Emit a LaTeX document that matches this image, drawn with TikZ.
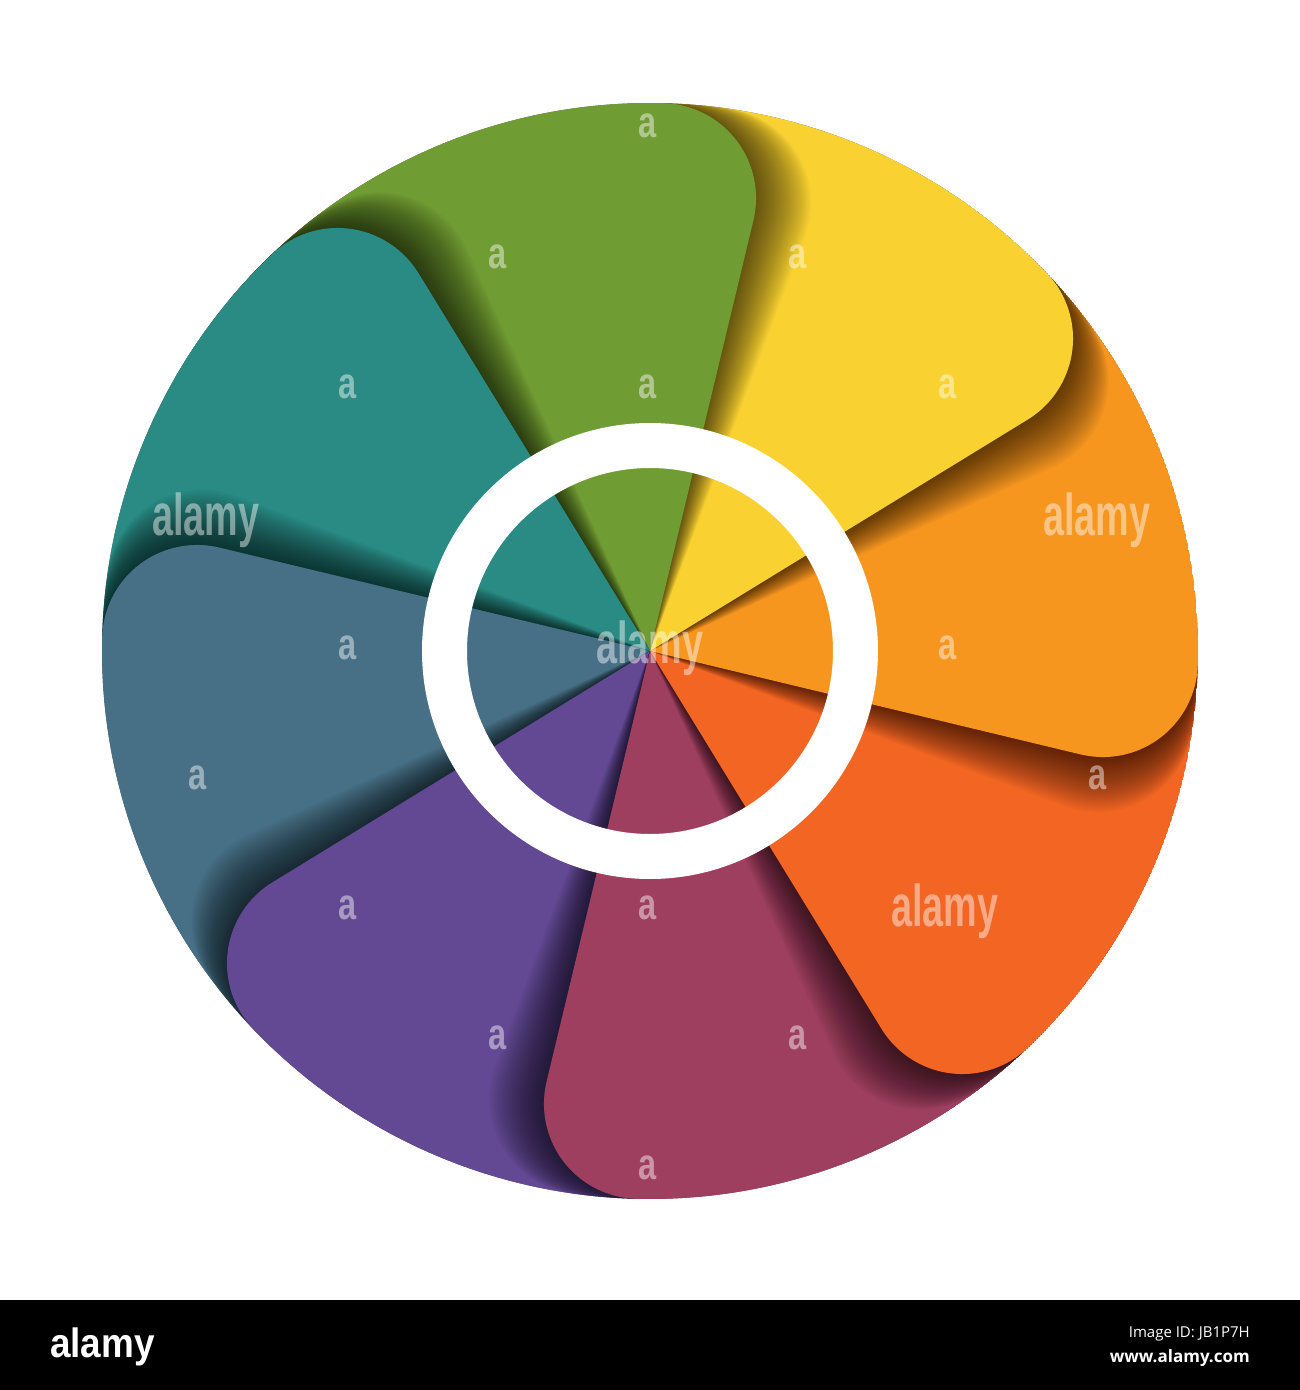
\documentclass[tikz,border=0pt]{standalone}
\usepackage{fontspec}
\newfontfamily\wmfont{Liberation Sans}[FakeStretch=0.64,BoldFeatures={FakeStretch=0.64}]
\newfontfamily\wmfonta{Liberation Sans}[FakeStretch=0.74,BoldFeatures={FakeStretch=0.74}]
\newfontfamily\logofont{Liberation Sans}[FakeStretch=0.9,BoldFeatures={FakeStretch=0.9}]
\newfontfamily\barfont{Open Sans}
\definecolor{cgreen}{HTML}{709C34}
\definecolor{cyellow}{HTML}{F9D232}
\definecolor{corange}{HTML}{F6961F}
\definecolor{cred}{HTML}{F26522}
\definecolor{cmaroon}{HTML}{9E3F5F}
\definecolor{cpurple}{HTML}{634893}
\definecolor{cslate}{HTML}{477086}
\definecolor{cteal}{HTML}{2A8A84}
\def\petalpath{(0,0) -- (136.5:548pt) arc[start angle=136.5, end angle=88.6, radius=548pt] arc[start angle=88.6, end angle=-13.5, radius=95pt] -- cycle}
\newcommand\petalshadow[1]{%
  \begin{scope}[rotate=#1]
    \foreach \d in {0.25,0.5,...,7.0}{\fill[black,opacity=0.027,rotate=-\d] \petalpath;}
  \end{scope}}
\newcommand\petalfill[2]{%
  \begin{scope}[rotate=#1]
    \fill[#2] \petalpath;
  \end{scope}}
\newcommand\drawpetal[2]{\petalshadow{#1}\petalfill{#1}{#2}}
\tikzset{
  wmsmall/.style={anchor=base,text=white,text opacity=0.45,inner sep=0pt,font=\wmfonta\bfseries\fontsize{44}{44}\selectfont},
  wmbig/.style={anchor=base,text=white,text opacity=0.45,inner sep=0pt,font=\wmfont\bfseries\fontsize{59}{59}\selectfont},
}
\begin{document}
\begin{tikzpicture}[x=1pt,y=1pt]
\useasboundingbox (-650,-739) rectangle (650,651);
\fill[white] (-650,-739) rectangle (650,651);
\begin{scope}
  \clip (0,0) circle[radius=548pt];
  \drawpetal{45}{cteal}
  \drawpetal{90}{cslate}
  \drawpetal{135}{cpurple}
  \drawpetal{180}{cmaroon}
  \drawpetal{225}{cred}
  \drawpetal{270}{corange}
  \drawpetal{315}{cyellow}
  \drawpetal{0}{cgreen}
  % teal lies over green: redraw its shadow and its leading edge
  \begin{scope}
    \clip (0,0) -- (100:800pt) -- (120:800pt) -- (140:800pt) -- cycle;
    \petalshadow{45}
  \end{scope}
  \begin{scope}
    \clip (0,0) -- (100:800pt) -- (125:800pt) -- (150:800pt) -- cycle;
    \petalfill{45}{cteal}
  \end{scope}
\end{scope}
\fill[white,even odd rule] (0,0) circle[radius=228pt] circle[radius=183pt];
% watermarks
\node[wmsmall] (a1) at (-2,513) {a};
\node[wmsmall] (a2) at (-152,382) {a};
\node[wmsmall] (a3) at (148,382) {a};
\node[wmsmall] (a4) at (-302,252) {a};
\node[wmsmall] (a5) at (-2,252) {a};
\node[wmsmall] (a6) at (298,252) {a};
\node[wmsmall] (a7) at (-302,-8) {a};
\node[wmsmall] (a8) at (298,-8) {a};
\node[wmsmall] (a9) at (-452,-138) {a};
\node[wmsmall] (a10) at (448,-138) {a};
\node[wmsmall] (a11) at (-302,-268) {a};
\node[wmsmall] (a12) at (-2,-268) {a};
\node[wmsmall] (a13) at (-152,-398) {a};
\node[wmsmall] (a14) at (148,-398) {a};
\node[wmsmall] (a15) at (-2,-528) {a};
\node[wmbig] (w1) at (-444,116) {alamy};
\node[wmbig] (w2) at (447,116) {alamy};
\node[wmbig] (w3) at (0,-12) {alamy};
\node[wmbig] (w4) at (295,-275) {alamy};
% bottom bar
\fill[black] (-650,-649) rectangle (650,-739);
\node[anchor=base west,inner sep=0pt,text=white,font=\logofont\bfseries\fontsize{41}{41}\selectfont] (logo) at (-600,-706) {alamy};
\node[anchor=base east,inner sep=0pt,text=white,font=\barfont\fontsize{15}{15}\selectfont] (imgid) at (600,-686) {Image ID: JB1P7H};
\node[anchor=base east,inner sep=0pt,text=white,font=\barfont\bfseries\fontsize{17}{17}\selectfont] (www) at (600,-711) {www.alamy.com};
\end{tikzpicture}
\end{document}
